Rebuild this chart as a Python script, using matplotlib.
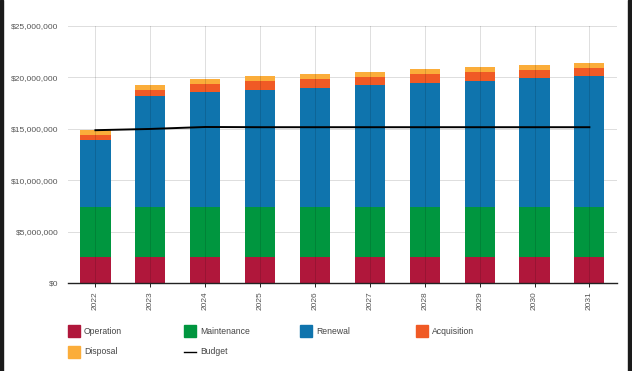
import matplotlib.pyplot as plt
from matplotlib.patches import Rectangle
from matplotlib.lines import Line2D
from matplotlib.ticker import FuncFormatter

plt.rcParams['font.family'] = ['Liberation Sans', 'DejaVu Sans']

years = ['2022', '2023', '2024', '2025', '2026', '2027', '2028', '2029', '2030', '2031']
operation = [2.58e6] * 10
maintenance = [4.78e6] * 10
renewal = [6.55e6, 10.79e6, 11.18e6, 11.44e6, 11.64e6, 11.84e6, 12.12e6, 12.31e6, 12.54e6, 12.73e6]
acquisition = [0.49e6, 0.58e6, 0.80e6, 0.80e6, 0.80e6, 0.86e6, 0.83e6, 0.83e6, 0.80e6, 0.81e6]
disposal = [0.52e6, 0.47e6, 0.53e6, 0.49e6, 0.50e6, 0.48e6, 0.52e6, 0.49e6, 0.48e6, 0.51e6]
budget = [14.86e6, 14.98e6, 15.17e6, 15.15e6, 15.15e6, 15.15e6, 15.15e6, 15.15e6, 15.15e6, 15.15e6]

names = ['Operation', 'Maintenance', 'Renewal', 'Acquisition', 'Disposal']
series = [operation, maintenance, renewal, acquisition, disposal]
colors = ['#B0173B', '#00963F', '#0F74AD', '#F05A25', '#FBAD3A']

fig = plt.figure(figsize=(6.32, 3.71), dpi=100)
ax = fig.add_axes([0.1076, 0.2364, 0.8684, 0.6943])

x = list(range(len(years)))
bottom = [0] * len(years)
for vals, c in zip(series, colors):
    ax.bar(x, vals, width=0.55, bottom=bottom, color=c, zorder=1)
    bottom = [b + v for b, v in zip(bottom, vals)]

ax.plot(x, budget, color='black', lw=1.4, zorder=3)

ax.set_xlim(-0.5, len(years) - 0.5)
ax.set_ylim(0, 25e6)
ax.set_yticks([0, 5e6, 10e6, 15e6, 20e6, 25e6])
ax.yaxis.set_major_formatter(FuncFormatter(lambda v, p: '${:,.0f}'.format(v)))
ax.set_xticks(x)
ax.set_xticklabels(years, rotation=90)
ax.tick_params(axis='y', length=0, pad=7, labelsize=6, labelcolor='#555555')
ax.tick_params(axis='x', length=3, width=0.6, pad=3, labelsize=6, labelcolor='#555555')
ax.set_axisbelow(True)
ax.grid(True, axis='y', color='#dddddd', lw=0.7)
# vertical grid shows through the bars
for xi in x:
    ax.axvline(xi, color='black', alpha=0.13, lw=0.7, zorder=2)
for s in ['top', 'right', 'left']:
    ax.spines[s].set_visible(False)
ax.spines['bottom'].set_color('#222222')
ax.spines['bottom'].set_linewidth(1.0)
ax.spines['bottom'].set_zorder(4)

# legend laid out in a grid like the original
W, H = 632, 371
items = list(zip(names, colors)) + [('Budget', None)]
for i, (name, c) in enumerate(items):
    col, row = i % 4, i // 4
    x0 = 68 + col * 116
    yc = 331 + row * 21
    if c is not None:
        fig.add_artist(Rectangle((x0 / W, 1 - (yc + 6) / H), 12 / W, 12 / H,
                                 transform=fig.transFigure, color=c))
    else:
        fig.add_artist(Line2D([x0 / W, (x0 + 12) / W], [1 - yc / H] * 2,
                              transform=fig.transFigure, color='black', lw=1))
    fig.text((x0 + 16) / W, 1 - yc / H, name, fontsize=6.2, color='#444444',
             va='center', ha='left')

# dark side borders
fig.add_artist(Rectangle((0, 0), 3 / W, 1, transform=fig.transFigure, color='#1a1a1a'))
fig.add_artist(Rectangle((628 / W, 0), 4 / W, 1, transform=fig.transFigure, color='#1a1a1a'))

fig.savefig('out.png', dpi=100)
